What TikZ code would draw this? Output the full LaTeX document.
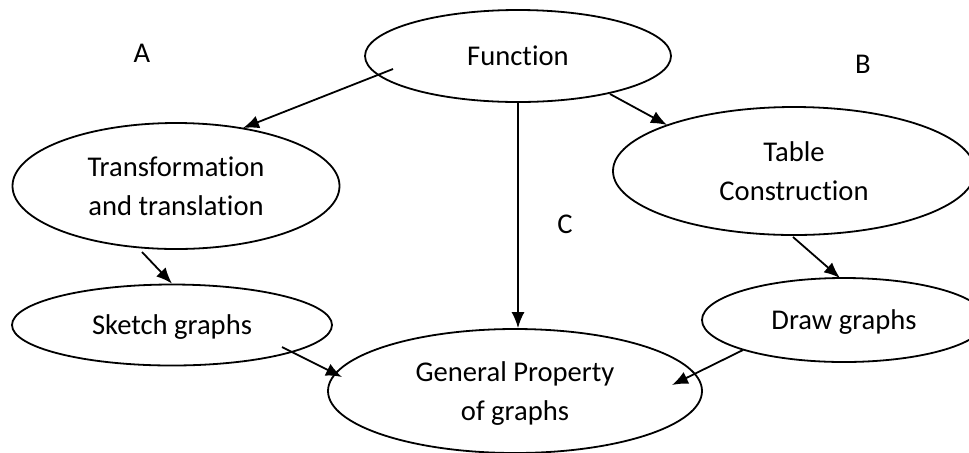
\documentclass[tikz,border=0pt]{standalone}
\usepackage{fontspec}
\setmainfont{Carlito}[Ligatures=NoCommon]
\usetikzlibrary{arrows.meta}
\usetikzlibrary{shapes.geometric}

\begin{document}
\begin{tikzpicture}[x=0.5pt,y=-0.5pt,line width=0.9pt,>={Latex[length=8pt,width=6.5pt]},
                bubble/.style={ellipse,draw,inner sep=0pt,align=center,text depth=0pt,font=\fontsize{14.3}{19.5}\selectfont},
                tag/.style={inner sep=0pt,font=\fontsize{14.3}{17}\selectfont}] 
                \useasboundingbox (0,0) rectangle (969,452);
                \node[bubble,minimum width=153pt,minimum height=46pt] (fn) at (518,56) {Function};
                \node[bubble,minimum width=163.5pt,minimum height=63pt] (tr) at (176,186) {Transformation\\and translation};
                \node[bubble,minimum width=181pt,minimum height=64pt] (tb) at (794,171) {Table\\Construction};
                \node[bubble,minimum width=160pt,minimum height=40.5pt] (sk) at (172,325) {Sketch graphs};
                \node[bubble,minimum width=142pt,minimum height=42pt] (dr) at (844,320) {Draw graphs};
                \node[bubble,minimum width=187pt,minimum height=62pt] (gp) at (515,391) {General Property\\of graphs};
                \node[tag] (a) at (142,53) {A};
                \node[tag] (b) at (863,64) {B};
                \node[tag] (c) at (565,224) {C};
                \path[->] 
                ([shift={(-125,13)}]fn.center) edge ([shift={(67,-58)}]tr.center)
                ([shift={(92,38)}]fn.center) edge ([shift={(-127,-46)}]tb.center)
                (fn.south) edge (fn.south |- gp.north)
                ([shift={(-34,66)}]tr.center) edge (sk.north)
                ([shift={(-1,66)}]tb.center) edge ([shift={(-4,-42)}]dr.center)
                ([shift={(110,22)}]sk.center) edge ([shift={(-173,-14)}]gp.center)
                ([shift={(-101,30)}]dr.center) edge ([shift={(157,-6)}]gp.center);
\end{tikzpicture}
\end{document}
